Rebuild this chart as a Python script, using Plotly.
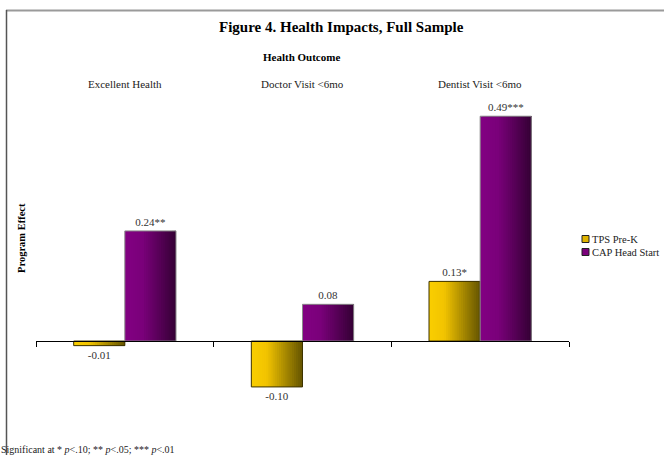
import plotly.graph_objects as go

categories = ["Excellent Health", "Doctor Visit <6mo", "Dentist Visit <6mo"]
series_names = ["TPS Pre-K", "CAP Head Start"]
tps_values = [-0.01, -0.10, 0.13]
cap_values = [0.24, 0.08, 0.49]
tps_labels = ["-0.01", "-0.10", "0.13*"]
cap_labels = ["0.24**", "0.08", "0.49***"]

FONT = "Liberation Serif"
W, H = 664, 455
L, R, T, B = 36, 95, 102, 41
PW, PH = W - L - R, H - T - B
YMIN, YMAX = -0.159, 0.521


def px(x):
    return (x - L) / PW


def py(y):
    return (H - B - y) / PH


def interp(stops, t):
    for (t0, c0), (t1, c1) in zip(stops, stops[1:]):
        if t0 <= t <= t1:
            f = (t - t0) / (t1 - t0) if t1 > t0 else 0
            return "rgb(%d,%d,%d)" % tuple(round(a + (b - a) * f) for a, b in zip(c0, c1))
    return "rgb(%d,%d,%d)" % stops[-1][1]


tps_stops = [(0, (250, 206, 0)), (0.3, (242, 196, 0)), (1, (100, 84, 0))]
cap_stops = [(0, (130, 0, 130)), (0.35, (122, 0, 122)), (1, (52, 0, 52))]

BW = 0.288
N = 24
fig = go.Figure()

series = [
    (series_names[0], tps_values, tps_labels, tps_stops, -BW, "#3d3300", "#e0b400"),
    (series_names[1], cap_values, cap_labels, cap_stops, 0.0, "#8a8a8a", "#7a007a"),
]

for name, vals, labels, stops, off, lc, mid in series:
    for i in range(N):
        fig.add_trace(go.Bar(
            x=categories, y=vals, width=BW - i * BW / N, offset=off + i * BW / N,
            marker=dict(color=interp(stops, (i + 0.5) / N), line=dict(width=0)),
            showlegend=False, hoverinfo="skip",
        ))
    fig.add_trace(go.Bar(
        x=categories, y=vals, width=BW, offset=off,
        marker=dict(color="rgba(0,0,0,0)", line=dict(color=lc, width=1)),
        text=labels, textposition="outside", cliponaxis=False,
        textfont=dict(family=FONT, size=11, color="#333333"),
        showlegend=False, name=name,
    ))

zero_frac = (0 - YMIN) / (YMAX - YMIN)

annotations = [
    dict(text="<b>Figure 4. Health Impacts, Full Sample</b>", x=px(341), y=py(27),
         font=dict(size=15, color="#000")),
    dict(text="<b>Health Outcome</b>", x=px(301), y=py(57), font=dict(size=11, color="#000")),
    dict(text="<b>Program Effect</b>", x=px(21), y=py(238), textangle=-90,
         font=dict(size=10.5, color="#000")),
    dict(text="Significant at * <i>p</i><.10; ** <i>p</i><.05; *** <i>p</i><.01",
         x=px(-1), y=py(449), xanchor="left", font=dict(size=10, color="#222")),
]
for a in annotations:
    a.update(xref="paper", yref="paper", showarrow=False)
    a.setdefault("xanchor", "center")
    a["yanchor"] = "middle"
    a["font"]["family"] = FONT

for c in categories:
    annotations.append(dict(text=c, x=c, xref="x", y=py(84), yref="paper",
                            showarrow=False, xanchor="center", yanchor="middle",
                            font=dict(family=FONT, size=11, color="#222")))

shapes = [
    dict(type="line", xref="paper", yref="paper", x0=px(6), x1=px(700), y0=py(10.5), y1=py(10.5),
         line=dict(color="#9a9a9a", width=2)),
    dict(type="line", xref="paper", yref="paper", x0=px(6.5), x1=px(6.5), y0=py(10), y1=py(470),
         line=dict(color="#555555", width=1.5)),
]

# custom legend (small squares + labels)
legend_y = [239, 252]
for (name, vals, labels, stops, off, lc, mid), ly in zip(series, legend_y):
    shapes.append(dict(type="rect", xref="paper", yref="paper",
                       x0=px(582), x1=px(589), y0=py(ly + 3.5), y1=py(ly - 3.5),
                       fillcolor=mid, line=dict(color="#222222", width=1)))
    annotations.append(dict(text=name, x=px(590), y=py(ly), xref="paper", yref="paper",
                            showarrow=False, xanchor="left", yanchor="middle",
                            font=dict(family=FONT, size=10.5, color="#222")))

fig.update_layout(
    width=W, height=H, margin=dict(l=L, r=R, t=T, b=B),
    paper_bgcolor="white", plot_bgcolor="white",
    barmode="overlay",
    font=dict(family=FONT, size=11, color="#222"),
    xaxis=dict(type="category", range=[-0.5, 2.5], anchor="free", position=zero_frac,
               showline=True, linecolor="black", linewidth=1,
               ticks="outside", tickson="boundaries", ticklen=5, tickcolor="black",
               showticklabels=False, showgrid=False, zeroline=False, fixedrange=True),
    yaxis=dict(range=[YMIN, YMAX], visible=False, showgrid=False, zeroline=False),
    annotations=annotations, shapes=shapes,
    showlegend=False,
)

fig.write_html("out.html")
